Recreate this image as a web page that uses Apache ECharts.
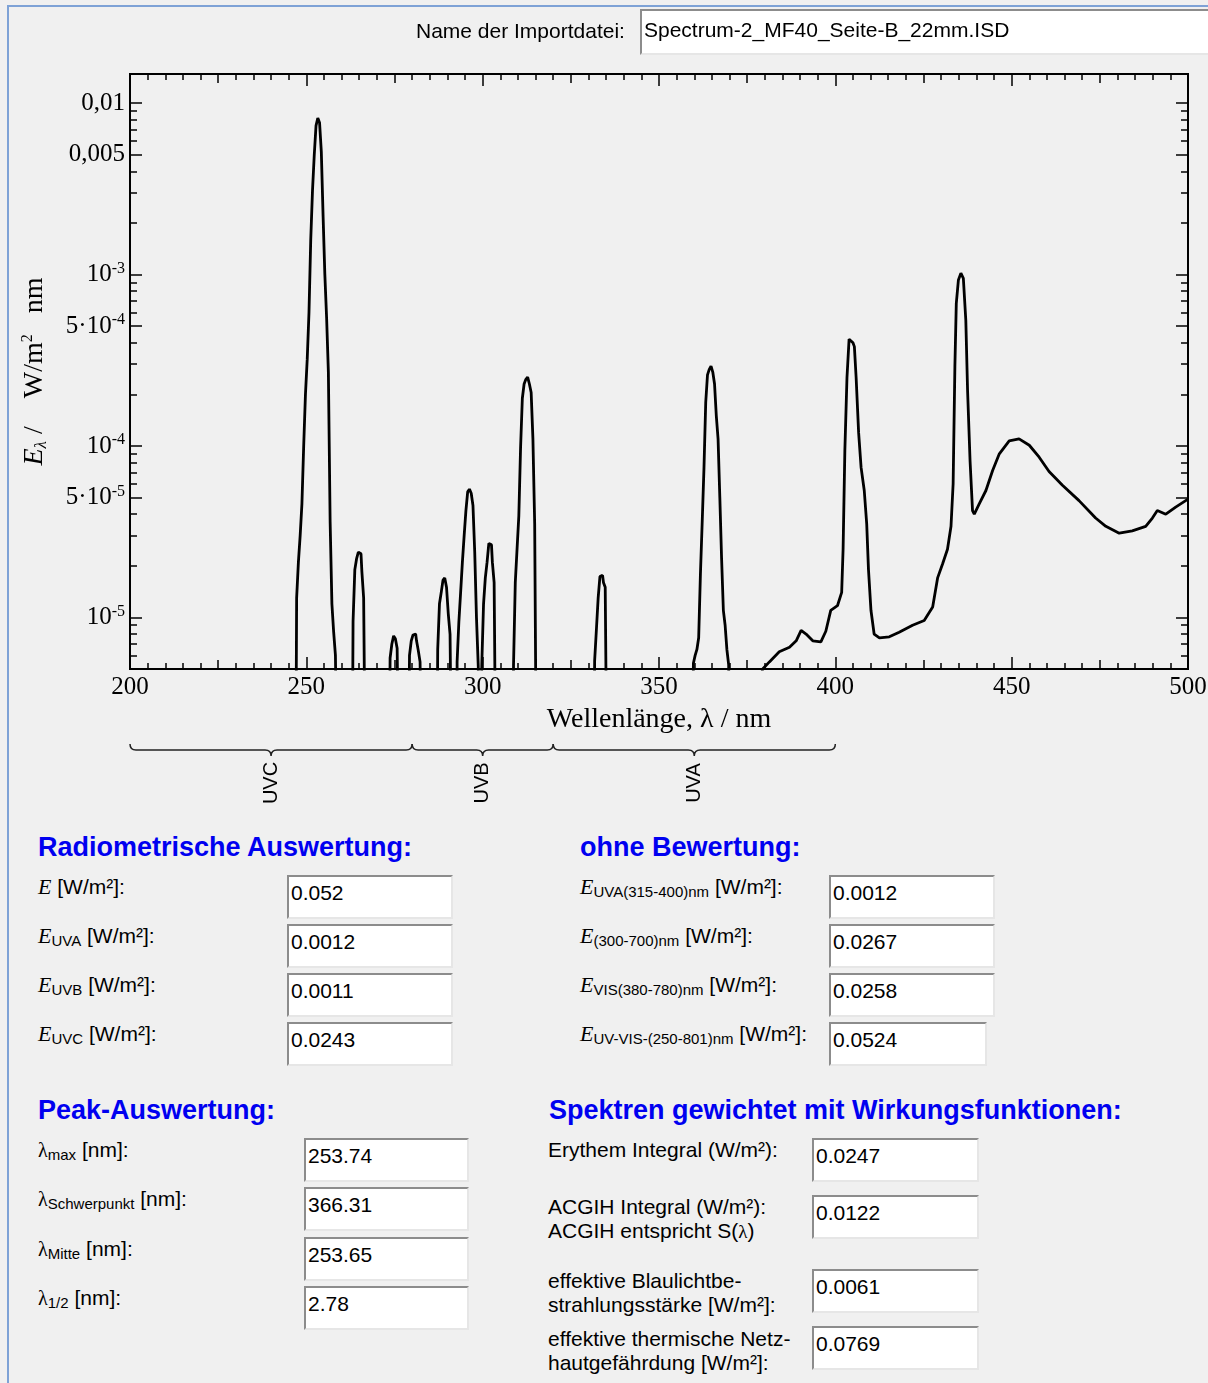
<!DOCTYPE html>
<html><head><meta charset="utf-8">
<script src="https://cdn.jsdelivr.net/npm/echarts@6/dist/echarts.min.js"></script>
<style>
html,body{margin:0;padding:0;background:#f0f0f0;width:1208px;height:1383px;overflow:hidden;font-family:"Liberation Sans",Arial,sans-serif;}
#frame{position:absolute;left:7px;top:5px;width:1300px;height:1500px;border-left:2px solid #7ea2d6;border-top:2px solid #7ea2d6;}
#chart{position:absolute;left:0;top:0;width:1208px;height:830px;}
.t{position:absolute;font-size:21px;color:#000;white-space:nowrap;line-height:24px;}
.h{position:absolute;font-weight:bold;font-size:27px;color:#0000f0;white-space:nowrap;line-height:30px;}
.box{position:absolute;background:#fff;border-top:2px solid #8c8c8c;border-left:2px solid #8c8c8c;border-right:2px solid #e6e6e6;border-bottom:2px solid #e6e6e6;box-sizing:border-box;height:44px;font-size:21px;line-height:24px;padding:4px 0 0 2px;white-space:nowrap;overflow:hidden;}
.it{font-family:"Liberation Serif",serif;font-style:italic;font-size:22px;}
.lam{font-family:"Liberation Serif",serif;font-size:20px;}
.sb{font-size:15px;vertical-align:-3px;}
</style></head>
<body>
<div id="frame"></div>
<div id="chart"></div>
<div id="ui"></div>
<script>
// ---------- spectrum data: [wavelength nm, E_lambda W/(m² nm)] ----------
// 1e-6 marks points below the visible axis range (line leaves the plot)
const spectrumUVC = [
  [247.0,1e-6],[247.5,1.3e-5],[248.0,2.1e-5],[248.5,3.0e-5],[249.0,4.6e-5],[249.5,1.0e-4],
  [250.0,2.0e-4],[250.5,3.2e-4],[251.0,6.0e-4],[251.5,1.6e-3],[252.0,3.1e-3],[252.5,5.0e-3],
  [253.0,7.4e-3],[253.5,8.2e-3],[254.0,7.7e-3],[254.5,5.2e-3],[255.0,2.2e-3],[255.5,1.0e-3],
  [256.0,5.6e-4],[256.5,2.7e-4],[257.0,3.6e-5],[257.5,1.2e-5],[258.0,8.2e-6],[258.5,6.0e-6],[259.0,1e-6],
  [263.0,1e-6],[263.5,9.5e-6],[264.0,1.9e-5],[264.5,2.2e-5],[265.0,2.4e-5],[265.5,2.35e-5],
  [266.0,1.85e-5],[266.5,1.3e-5],[267.0,1e-6],
  [273.5,1e-6],[274.0,5.8e-6],[274.5,7.0e-6],[275.0,7.8e-6],[275.5,7.5e-6],[276.0,6.6e-6],[276.5,1e-6],
  [279.0,1e-6],[279.5,6.0e-6],[280.0,7.3e-6],[280.5,7.9e-6],[281.0,8.0e-6],[281.5,7.3e-6],
  [282.0,6.4e-6],[282.5,5.5e-6],[283.0,1e-6]
];
const spectrumUVB = [
  [287.0,1e-6],[287.5,6.5e-6],[288.0,1.2e-5],[288.5,1.4e-5],[289.0,1.65e-5],[289.5,1.7e-5],
  [290.0,1.5e-5],[290.5,1.05e-5],[291.0,8.0e-6],[291.5,1e-6],
  [292.5,1e-6],[293.0,5.5e-6],[293.5,9.4e-6],[294.0,1.4e-5],[294.5,2.1e-5],[295.0,3.0e-5],
  [295.5,4.2e-5],[296.0,5.4e-5],[296.5,5.6e-5],[297.0,5.3e-5],[297.5,4.5e-5],[298.0,2.4e-5],
  [298.5,9.9e-6],[299.0,5.2e-6],[299.5,1e-6],
  [300.0,5.3e-6],[300.5,1.2e-5],[301.0,1.7e-5],[301.5,2.1e-5],[302.0,2.7e-5],[302.5,2.65e-5],
  [303.0,2.1e-5],[303.5,1.6e-5],[304.0,1e-6],
  [308.5,1e-6],[309.0,5.3e-6],[309.5,1.6e-5],[310.0,2.5e-5],[310.5,3.9e-5],[311.0,9.8e-5],
  [311.5,1.9e-4],[312.0,2.3e-4],[312.5,2.45e-4],[313.0,2.52e-4],[313.5,2.3e-4],[314.0,2.05e-4],
  [314.5,1.1e-4],[315.0,3.5e-5],[315.5,1e-6]
];
const spectrumUVA = [
  [331.5,1e-6],[332.0,5.6e-6],[332.5,8.5e-6],[333.0,1.3e-5],[333.5,1.73e-5],[334.0,1.76e-5],
  [334.5,1.6e-5],[335.0,1.5e-5],[335.5,1e-6],
  [359.5,1e-6],[360.0,5.4e-6],[360.5,6.0e-6],[361.0,6.5e-6],[361.5,7.6e-6],[362.0,1.8e-5],
  [362.5,3.6e-5],[363.0,7.4e-5],[363.5,1.8e-4],[364.0,2.6e-4],[364.5,2.8e-4],[365.0,2.92e-4],
  [365.5,2.7e-4],[366.0,2.3e-4],[366.5,1.5e-4],[367.0,1.1e-4],[367.5,5.0e-5],[368.0,2.2e-5],
  [368.5,1.1e-5],[369.0,9.0e-6],[369.5,6.5e-6],[370.0,5.3e-6],[370.5,1e-6]
];
const spectrumVIS = [
  [379.0,4.6e-6],[379.4,5.0e-6],[381.3,5.5e-6],[384.1,6.3e-6],[387.0,6.7e-6],[388.9,7.3e-6],
  [390.3,8.4e-6],[391.7,8.0e-6],[393.6,7.3e-6],[395.9,7.2e-6],[397.3,8.3e-6],[398.7,1.1e-5],
  [400.6,1.17e-5],[401.8,1.4e-5],[402.2,2.5e-5],[402.7,9.4e-5],[403.3,2.5e-4],[403.9,4.2e-4],
  [404.4,4.3e-4],[405.0,4.0e-4],[405.4,3.8e-4],[405.9,2.5e-4],[406.6,1.2e-4],[407.3,7.5e-5],
  [408.2,5.5e-5],[408.9,3.5e-5],[409.4,1.9e-5],[410.1,1.1e-5],[411.0,8.0e-6],[412.5,7.6e-6],
  [415.3,7.7e-6],[418.1,8.2e-6],[421.9,9.0e-6],[425.2,9.6e-6],[427.6,1.15e-5],[429.0,1.7e-5],
  [430.4,2.05e-5],[431.8,2.5e-5],[432.8,3.4e-5],[433.4,6.0e-5],[433.9,2.9e-4],[434.3,6.8e-4],
  [434.9,9.3e-4],[435.6,1.02e-3],[436.3,9.5e-4],[437.0,5.4e-4],[437.5,2.1e-4],[438.2,8.2e-5],
  [438.9,4.2e-5],[439.4,4.0e-5],[440.8,4.6e-5],[442.7,5.5e-5],[444.6,7.2e-5],[446.5,9.0e-5],
  [449.3,1.07e-4],[452.1,1.1e-4],[455.0,1.01e-4],[457.8,8.6e-5],[460.6,7.1e-5],[464.4,5.9e-5],
  [469.1,4.8e-5],[473.8,3.8e-5],[476.7,3.4e-5],[480.5,3.1e-5],[484.2,3.2e-5],[488.0,3.4e-5],
  [489.9,3.8e-5],[491.3,4.2e-5],[493.7,4.0e-5],[496.5,4.4e-5],[500.0,4.9e-5]
];

// ---------- axes ----------
const xRange = [200, 500];
const yRange = [5e-6, 0.0148];
const yLabelValues = [0.01, 0.005, 0.001, 0.0005, 0.0001, 0.00005, 0.00001];
const yLabelTexts = ['0,01', '0,005', '10{sup|-3}', '5·10{sup|-4}', '10{sup|-4}', '5·10{sup|-5}', '10{sup|-5}'];
const yMinorTickValues = [6e-6, 7e-6, 8e-6, 9e-6,
  2e-5, 3e-5, 4e-5, 6e-5, 7e-5, 8e-5, 9e-5,
  2e-4, 3e-4, 4e-4, 6e-4, 7e-4, 8e-4, 9e-4,
  2e-3, 3e-3, 4e-3, 6e-3, 7e-3, 8e-3, 9e-3];

// ---------- UV band braces ----------
const bandNames = ['UVC', 'UVB', 'UVA'];
const bandStart = [200, 280, 320];
const bandEnd = [280, 320, 400];

// ---------- result panels ----------
const fileName = 'Spectrum-2_MF40_Seite-B_22mm.ISD';
const radiometricValues = ['0.052', '0.0012', '0.0011', '0.0243'];
const unweightedValues = ['0.0012', '0.0267', '0.0258', '0.0524'];
const peakValues = ['253.74', '366.31', '253.65', '2.78'];
const weightedValues = ['0.0247', '0.0122', '0.0061', '0.0769'];

const SERIF = '"Liberation Serif","Times New Roman",serif';
const SANS = '"Liberation Sans",Arial,sans-serif';

function yLabel(v) {
  for (let i = 0; i < yLabelValues.length; i++) {
    if (Math.abs(v - yLabelValues[i]) <= yLabelValues[i] * 1e-6) return yLabelTexts[i];
  }
  return '';
}

const tickStyle = { color: '#000', width: 1.5 };
function yAxisDef(pos, major) {
  return {
    type: 'log', logBase: 10, min: yRange[0], max: yRange[1], position: pos,
    axisLine: { show: false }, splitLine: { show: false },
    axisTick: { show: true, inside: true, length: major ? 12 : 7, lineStyle: tickStyle,
      customValues: major ? yLabelValues : yMinorTickValues },
    axisLabel: (major && pos === 'left') ? {
      show: true, customValues: yLabelValues, formatter: yLabel, margin: 5,
      color: '#000', fontFamily: SERIF, fontSize: 25, lineHeight: 28,
      rich: { sup: { fontFamily: SERIF, fontSize: 16, lineHeight: 16, verticalAlign: 'top', color: '#000' } }
    } : { show: false },
    name: (major && pos === 'left') ? '{e|E}{l|λ}{n| /    W/m}{s|2}{n|   nm}' : '',
    nameLocation: 'middle', nameGap: 80,
    nameTextStyle: { color: '#000', fontFamily: SERIF, fontSize: 28, lineHeight: 30,
      rich: {
        e: { fontFamily: SERIF, fontSize: 28, fontStyle: 'italic', color: '#000' },
        l: { fontFamily: SERIF, fontSize: 17, lineHeight: 17, fontStyle: 'italic', verticalAlign: 'bottom', color: '#000' },
        n: { fontFamily: SERIF, fontSize: 28, color: '#000' },
        s: { fontFamily: SERIF, fontSize: 16, lineHeight: 16, verticalAlign: 'top', color: '#000' }
      } }
  };
}
function xAxisDef(pos, interval, len, labels, minor) {
  return {
    type: 'value', min: xRange[0], max: xRange[1], interval: interval, position: pos,
    axisLine: { show: false }, splitLine: { show: false },
    axisTick: { show: true, inside: true, length: len, lineStyle: tickStyle },
    minorTick: minor ? { show: true, splitNumber: 10, length: 6, lineStyle: tickStyle } : { show: false },
    axisLabel: labels ? { show: true, color: '#000', fontFamily: SERIF, fontSize: 25, margin: 6,
      showMinLabel: true, showMaxLabel: true, hideOverlap: false } : { show: false },
    name: labels ? 'Wellenlänge, λ / nm' : '',
    nameLocation: 'middle', nameGap: 37,
    nameTextStyle: { color: '#000', fontFamily: SERIF, fontSize: 28 }
  };
}

const chart = echarts.init(document.getElementById('chart'), null, { renderer: 'canvas' });
const uvData = spectrumUVC.concat(spectrumUVB, spectrumUVA);
const bandData = bandNames.map((n, i) => [bandStart[i], bandEnd[i]]);

chart.setOption({
  animation: false,
  backgroundColor: 'transparent',
  grid: { left: 130, top: 74, width: 1058, height: 595, show: true, borderColor: '#000', borderWidth: 2,
    backgroundColor: 'transparent', containLabel: false, outerBoundsMode: 'none' },
  xAxis: [
    xAxisDef('bottom', 50, 12, true, true),
    xAxisDef('bottom', 25, 9, false, false),
    xAxisDef('top', 50, 12, false, true),
    xAxisDef('top', 25, 9, false, false)
  ],
  yAxis: [
    yAxisDef('left', true), yAxisDef('left', false),
    yAxisDef('right', true), yAxisDef('right', false)
  ],
  series: [
    { type: 'line', data: uvData, step: 'middle', showSymbol: false, symbol: 'none',
      lineStyle: { color: '#000', width: 2.8 }, clip: true, z: 5 },
    { type: 'line', data: spectrumVIS, showSymbol: false, symbol: 'none',
      lineStyle: { color: '#000', width: 2.8 }, clip: true, z: 5 },
    { type: 'custom', data: bandData, clip: false, silent: true, z: 10,
      encode: { x: [0, 1] },
      renderItem: function (params, api) {
        const p0 = api.coord([api.value(0), yRange[0]]);
        const p1 = api.coord([api.value(1), yRange[0]]);
        const x0 = p0[0], x1 = p1[0], xc = (x0 + x1) / 2;
        const y = p0[1] + 81, yt = y - 6, yb = y + 6;
        const d = 'M' + x0 + ',' + yt + ' Q' + x0 + ',' + y + ' ' + (x0 + 6) + ',' + y +
          ' L' + (xc - 6) + ',' + y + ' Q' + xc + ',' + y + ' ' + xc + ',' + yb +
          ' Q' + xc + ',' + y + ' ' + (xc + 6) + ',' + y +
          ' L' + (x1 - 6) + ',' + y + ' Q' + x1 + ',' + y + ' ' + x1 + ',' + yt;
        return { type: 'group', children: [
          { type: 'path', shape: { pathData: d }, style: { stroke: '#222', fill: null, lineWidth: 1.5 } },
          { type: 'text', x: xc, y: y + 33, rotation: Math.PI / 2,
            style: { text: bandNames[params.dataIndex], fill: '#000', font: '20px ' + SANS,
              align: 'center', verticalAlign: 'middle' } }
        ] };
      }
    }
  ]
});

// ---------- HTML panels ----------
const ui = document.getElementById('ui');
function add(cls, left, top, html, extra) {
  const d = document.createElement('div');
  d.className = cls; d.style.left = left + 'px'; d.style.top = top + 'px';
  if (extra) Object.assign(d.style, extra);
  d.innerHTML = html; ui.appendChild(d); return d;
}
function box(left, top, width, text, h, pad) {
  const b = add('box', left, top, text, { width: width + 'px', height: (h || 44) + 'px' });
  if (pad) b.style.paddingTop = pad + 'px';
}
add('t', 416, 19, 'Name der Importdatei:');
box(640, 9, 600, fileName, 46, 7);

add('h', 38, 832, 'Radiometrische Auswertung:');
const radLabels = ['<span class="it">E</span> [W/m²]:',
  '<span class="it">E</span><span class="sb">UVA</span> [W/m²]:',
  '<span class="it">E</span><span class="sb">UVB</span> [W/m²]:',
  '<span class="it">E</span><span class="sb">UVC</span> [W/m²]:'];
const rowTopsA = [875, 924, 973, 1022];
radLabels.forEach((l, i) => { add('t', 38, rowTopsA[i], l); box(287, rowTopsA[i], 166, radiometricValues[i]); });

add('h', 580, 832, 'ohne Bewertung:');
const unwLabels = ['<span class="it">E</span><span class="sb">UVA(315-400)nm</span> [W/m²]:',
  '<span class="it">E</span><span class="sb">(300-700)nm</span> [W/m²]:',
  '<span class="it">E</span><span class="sb">VIS(380-780)nm</span> [W/m²]:',
  '<span class="it">E</span><span class="sb">UV-VIS-(250-801)nm</span> [W/m²]:'];
const unwWidths = [166, 166, 166, 158];
unwLabels.forEach((l, i) => { add('t', 580, rowTopsA[i], l); box(829, rowTopsA[i], unwWidths[i], unweightedValues[i]); });

add('h', 38, 1095, 'Peak-Auswertung:');
const peakLabels = ['<span class="lam">λ</span><span class="sb">max</span> [nm]:',
  '<span class="lam">λ</span><span class="sb">Schwerpunkt</span> [nm]:',
  '<span class="lam">λ</span><span class="sb">Mitte</span> [nm]:',
  '<span class="lam">λ</span><span class="sb">1/2</span> [nm]:'];
const rowTopsC = [1138, 1187, 1237, 1286];
peakLabels.forEach((l, i) => { add('t', 38, rowTopsC[i], l); box(304, rowTopsC[i], 165, peakValues[i]); });

add('h', 549, 1095, 'Spektren gewichtet mit Wirkungsfunktionen:');
const wLabels = ['Erythem Integral (W/m²):',
  'ACGIH Integral (W/m²):<br>ACGIH entspricht S(<span class="lam" style="font-size:19px">λ</span>)',
  'effektive Blaulichtbe-<br>strahlungsstärke [W/m²]:',
  'effektive thermische Netz-<br>hautgefährdung [W/m²]:'];
const rowTopsD = [1138, 1195, 1269, 1326];
const labelTopsD = [1138, 1195, 1269, 1327];
wLabels.forEach((l, i) => { add('t', 548, labelTopsD[i], l); box(812, rowTopsD[i], 167, weightedValues[i]); });
</script>
</body></html>
